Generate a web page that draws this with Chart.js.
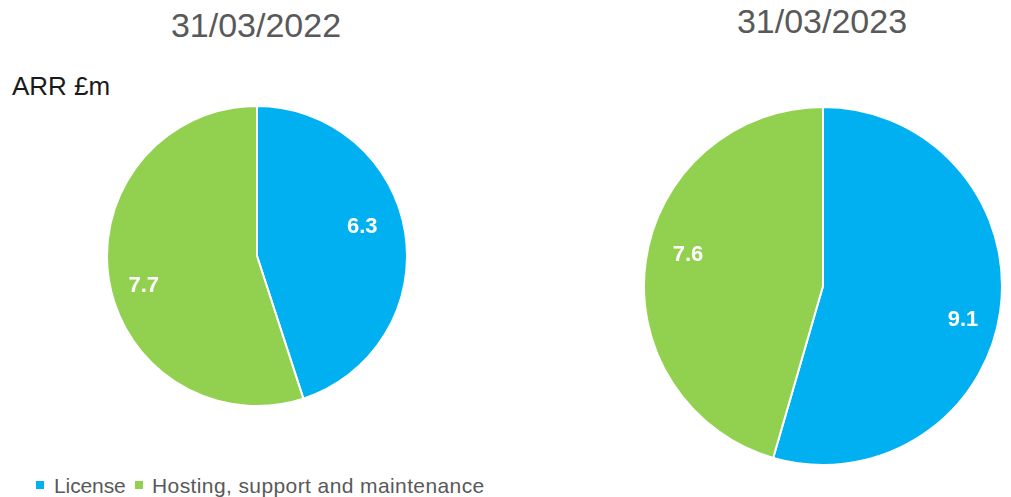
<!DOCTYPE html>
<html>
<head>
<meta charset="utf-8">
<script src="https://cdn.jsdelivr.net/npm/chart.js@4"></script>
<style>
  body { margin: 0; width: 1011px; height: 497px; background: #fff; position: relative; overflow: hidden;
         font-family: "Liberation Sans", Arial, sans-serif; }
  .abs { position: absolute; white-space: nowrap; line-height: 1; }
  .title { font-size: 34px; color: #595959; transform: translateX(-50%); }
  .box { position: absolute; }
  .sq { position: absolute; width: 8px; height: 8px; }
</style>
</head>
<body>
<div class="abs title" style="left:256px; top:8px;">31/03/2022</div>
<div class="abs title" style="left:822px; top:4px;">31/03/2023</div>
<div class="abs" style="left:12px; top:73px; font-size:26px; color:#1a1a1a;">ARR £m</div>

<div class="box" style="left:106px; top:105px; width:302px; height:302px;"><canvas id="pie2022"></canvas></div>
<div class="box" style="left:643px; top:106px; width:360px; height:360px;"><canvas id="pie2023"></canvas></div>

<div id="legend"></div>

<script>
const categories = ['License', 'Hosting, support and maintenance'];
const colours = ['#00B0F0', '#92D050'];
const values2022 = [6.3, 7.7];
const values2023 = [9.1, 7.6];

// legend built from the categories
const legendX = [[36, 54], [135, 152]];
const legendSpacing = ['-0.1px', '0.4px'];
const legend = document.getElementById('legend');
categories.forEach((c, i) => {
  const sq = document.createElement('div');
  sq.className = 'sq';
  sq.style.left = legendX[i][0] + 'px';
  sq.style.top = '481px';
  sq.style.background = colours[i];
  legend.appendChild(sq);
  const t = document.createElement('div');
  t.className = 'abs';
  t.style.left = legendX[i][1] + 'px';
  t.style.top = '475px';
  t.style.fontSize = '21px';
  t.style.letterSpacing = legendSpacing[i];
  t.style.color = '#595959';
  t.textContent = c;
  legend.appendChild(t);
});

// simple value labels inside the slices (nudged like Excel's best fit)
const valueLabels = {
  id: 'valueLabels',
  afterDatasetsDraw(chart, args, opts) {
    const ctx = chart.ctx;
    const meta = chart.getDatasetMeta(0);
    ctx.save();
    ctx.fillStyle = '#fff';
    ctx.font = 'bold 22px "Liberation Sans", Arial, sans-serif';
    ctx.textAlign = 'center';
    ctx.textBaseline = 'middle';
    meta.data.forEach((arc, i) => {
      const mid = (arc.startAngle + arc.endAngle) / 2;
      const r = arc.outerRadius * opts.factor;
      const x = arc.x + Math.cos(mid) * r + opts.dx[i];
      const y = arc.y + Math.sin(mid) * r + opts.dy[i];
      ctx.fillText(chart.data.datasets[0].data[i].toFixed(1), x, y);
    });
    ctx.restore();
  }
};

function makePie(id, values, factor, dx, dy) {
  new Chart(document.getElementById(id), {
    type: 'pie',
    data: {
      labels: categories,
      datasets: [{
        data: values,
        backgroundColor: colours,
        borderColor: '#ffffff',
        borderWidth: 2
      }]
    },
    options: {
      responsive: true,
      maintainAspectRatio: false,
      animation: false,
      layout: { padding: 0 },
      plugins: {
        legend: { display: false },
        tooltip: { enabled: false },
        valueLabels: { factor: factor, dx: dx, dy: dy }
      }
    },
    plugins: [valueLabels]
  });
}

makePie('pie2022', values2022, 0.69, [3, -11], [-13, 14]);
makePie('pie2023', values2023, 0.79, [0, 5], [14, -11]);
</script>
</body>
</html>
